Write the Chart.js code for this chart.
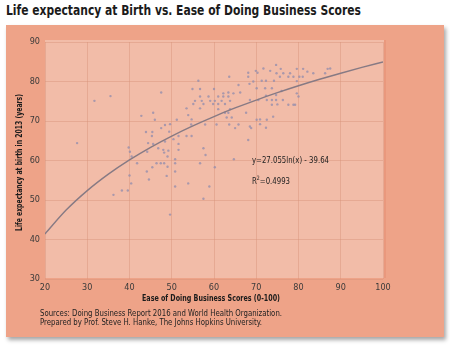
<!DOCTYPE html>
<html>
<head>
<meta charset="utf-8">
<script src="https://cdn.jsdelivr.net/npm/chart.js@4.4.1/dist/chart.umd.min.js"></script>
<style>
    body { margin: 0; background: #fff; width: 450px; height: 349px; overflow: hidden; position: relative; }
    #title { position: absolute; left: 6px; top: 2px; font-weight: bold; font-size: 14px; line-height: 16px; color: #1b1b1b; white-space: nowrap; transform-origin: 0 0; }
    #panel { position: absolute; left: 6px; top: 25px; width: 438px; height: 312px; background: #EEA388; box-shadow: 2px 3px 4px rgba(0,0,0,0.35); }
    #wrap { position: absolute; left: 0; top: 0; width: 438px; height: 285px; }
    .txt { position: absolute; font-size: 9px; line-height: 9px; color: #222; white-space: nowrap; transform-origin: 0 0; }
</style>
</head>
<body>
<div id="title" class="fit" data-w="355">Life expectancy at Birth vs. Ease of Doing Business Scores</div>
<div id="panel">
    <div id="wrap"><canvas id="scatterChart" width="438" height="285"></canvas></div>
    <div class="txt fit" data-w="77" style="left:246px; top:131px;">y=27.055ln(x) - 39.64</div>
    <div class="txt fit" data-w="38" style="left:246px; top:152px;">R<sup style="font-size:6px;line-height:0;">2</sup>=0.4993</div>
    <div class="txt fit" data-w="242" style="left:34px; top:284px;">Sources: Doing Business Report 2016 and World Health Organization.</div>
    <div class="txt fit" data-w="222" style="left:34px; top:293px;">Prepared by Prof. Steve H. Hanke, The Johns Hopkins University.</div>
</div>
<script>
// Ease of Doing Business score (x) and life expectancy 2013 (y)
const businessScores = [
    27.6, 31.7, 35.5, 36.2, 38.2, 39.6, 40.0, 40.4, 39.8, 40.1, 40.5, 41.8, 42.8, 45.6, 46.0, 47.5, 43.9, 45.4,
    45.3, 47.5, 44.4, 45.6, 44.2, 46.8, 48.2, 49.0, 46.4, 47.4, 48.2, 49.0, 45.4, 44.1, 48.8, 44.6, 49.6,
    63.6, 68.1, 68.1, 70.3, 56.3, 65.8, 68.4, 54.9, 56.7, 60.0, 62.2, 63.4, 64.6, 66.2, 56.7, 58.7, 61.0, 62.2,
    63.4, 55.5, 57.1, 59.1, 60.2, 61.8, 63.8, 55.1, 57.5, 59.8, 61.0, 62.6, 53.5, 56.7, 61.0, 63.8, 62.6, 63.4,
    67.6, 53.9, 63.0, 64.2, 51.2, 70.1, 48.4, 49.6, 54.6, 57.9, 60.6, 63.6, 65.8, 65.0, 68.8, 49.4, 51.6, 53.5,
    54.7, 50.4, 48.4, 68.1, 51.6, 57.5, 48.0, 49.2, 51.6, 58.0, 50.8, 64.7, 50.8, 56.7, 60.2, 50.8, 53.9, 58.9,
    50.8, 57.5, 54.7,
    74.7, 75.8, 71.7, 69.9, 73.3, 79.6, 81.1, 82.1, 86.9, 74.8, 76.4, 78.0, 83.5, 86.3, 75.6, 77.6, 78.8, 80.2,
    81.0, 71.3, 72.3, 74.2, 69.3, 79.6, 70.1, 72.1, 73.7, 76.0, 79.6, 80.0, 68.5, 70.5, 72.5, 73.7, 74.7, 76.3,
    72.3, 74.7, 73.7, 75.0, 77.6, 78.8, 79.2, 74.0, 70.9, 72.5, 70.9, 72.3, 68.5, 87.5
];
const lifeExpectancy = [
    64.4, 75.1, 76.3, 51.3, 52.4, 52.4, 56.2, 54.2, 63.3, 62.2, 61.0, 59.3, 71.3, 72.1, 70.3, 77.2, 67.2, 67.2,
    66.2, 68.2, 64.4, 64.2, 62.2, 63.1, 62.0, 61.0, 59.3, 59.3, 59.3, 58.4, 58.3, 57.2, 56.1, 55.2, 46.3,
    81.2, 82.2, 81.2, 82.2, 80.2, 79.1, 79.4, 78.1, 78.1, 78.1, 77.0, 77.2, 77.0, 77.2, 76.2, 76.2, 76.2, 76.2,
    76.2, 75.1, 75.1, 75.1, 75.1, 75.1, 75.1, 74.3, 74.3, 74.3, 74.3, 74.3, 73.2, 73.2, 73.0, 73.0, 72.1, 72.1,
    72.1, 71.5, 70.9, 70.9, 70.3, 70.3, 69.0, 69.2, 69.1, 69.1, 69.1, 69.1, 69.1, 68.2, 68.2, 67.3, 66.2, 66.2,
    66.2, 65.4, 64.8, 65.2, 64.2, 63.1, 62.7, 62.5, 62.7, 61.4, 60.3, 60.3, 59.3, 59.3, 58.3, 57.2, 54.2, 53.4,
    53.4, 50.3, 70.4,
    84.2, 83.2, 83.3, 82.7, 82.7, 83.2, 83.2, 82.5, 83.2, 82.1, 82.1, 82.1, 82.1, 82.1, 81.2, 81.2, 81.2, 81.2,
    81.2, 80.2, 80.2, 80.2, 80.0, 80.1, 78.3, 78.3, 78.3, 77.6, 77.0, 76.2, 75.3, 75.3, 75.3, 75.3, 75.3, 75.3,
    76.4, 76.6, 74.1, 74.2, 74.1, 74.1, 74.1, 71.1, 70.4, 70.3, 69.2, 68.3, 68.6, 83.3
];

// Logarithmic trend line y = 27.055ln(x) - 39.64, values at every 5 points
const trendX = [20, 25, 30, 35, 40, 45, 50, 55, 60, 65, 70, 75, 80, 85, 90, 95, 100];
const trendY = [41.41, 47.45, 52.38, 56.55, 60.16, 63.35, 66.20, 68.78, 71.13, 73.30, 75.30, 77.17, 78.92, 80.56, 82.10, 83.57, 84.95];

const xTicks = [20, 30, 40, 50, 60, 70, 80, 90, 100];
const yTicks = [30, 40, 50, 60, 70, 80, 90];

const xTitle = 'Ease of Doing Business Scores (0-100)';
const yTitle = 'Life expectancy at birth in 2013 (years)';

// Pick a narrow font if one is installed
function hasFont(name) {
    const c = document.createElement('canvas').getContext('2d');
    const s = 'abcdefghijklmnopqrstuvwxyz0123456789ABCDEF';
    c.font = '20px monospace';
    const a = c.measureText(s).width;
    c.font = '20px "' + name + '", monospace';
    return c.measureText(s).width !== a;
}
const FONT = ['Liberation Sans Narrow', 'DejaVu Sans Condensed', 'Roboto'].find(hasFont) || 'sans-serif';

document.querySelectorAll('.fit').forEach(function(el) {
    el.style.fontFamily = '"' + FONT + '", sans-serif';
    const w = el.getBoundingClientRect().width;
    const target = parseFloat(el.dataset.w);
    if (w > 0) el.style.transform = 'scaleX(' + (target / w) + ')';
});

const plotBackground = {
    id: 'plotBackground',
    beforeDraw(chart) {
        const { ctx, chartArea: a } = chart;
        ctx.save();
        ctx.fillStyle = '#F2BCA8';
        ctx.fillRect(a.left, a.top - 2, a.right - a.left + 1, a.bottom - a.top + 1);
        ctx.fillStyle = '#E9987D';
        ctx.fillRect(a.right + 1, a.top - 2, 2, a.bottom - a.top + 1);
        ctx.restore();
    }
};

// axis titles in a narrow bold face, squeezed to the widths seen in the original
function narrowText(ctx, text, x, y, width, rotate) {
    ctx.save();
    ctx.font = 'bold 9px "' + FONT + '", sans-serif';
    ctx.fillStyle = '#1b1b1b';
    ctx.textAlign = 'center';
    ctx.textBaseline = 'middle';
    const w = ctx.measureText(text).width;
    ctx.translate(x, y);
    if (rotate) ctx.rotate(-Math.PI / 2);
    ctx.scale(width / w, 1);
    ctx.fillText(text, 0, 0);
    ctx.restore();
}

const axisTitles = {
    id: 'axisTitles',
    afterDraw(chart) {
        const { ctx, chartArea: a } = chart;
        narrowText(ctx, xTitle, (a.left + a.right) / 2 - 3, a.bottom + 20, 138, false);
        narrowText(ctx, yTitle, 14, (a.top + a.bottom) / 2 + 2, 137, true);
    }
};

const tickFont = { family: FONT, size: 9 };

new Chart(document.getElementById('scatterChart'), {
    type: 'scatter',
    data: {
        datasets: [{
            type: 'line',
            data: trendX.map((x, i) => ({ x: x, y: trendY[i] })),
            borderColor: '#877a84',
            borderWidth: 1.4,
            pointRadius: 0,
            cubicInterpolationMode: 'monotone',
            fill: false,
            order: 0
        }, {
            data: businessScores.map((x, i) => ({ x: x, y: lifeExpectancy[i] })),
            backgroundColor: 'rgba(150,142,172,0.8)',
            borderWidth: 0,
            pointRadius: 1.2,
            order: 1
        }]
    },
    options: {
        responsive: false,
        animation: false,
        devicePixelRatio: 1,
        layout: { padding: { top: 17, right: 61, left: 0, bottom: 0 } },
        plugins: { legend: { display: false }, tooltip: { enabled: false } },
        scales: {
            x: {
                type: 'linear',
                min: 20,
                max: 100,
                afterBuildTicks: s => { s.ticks = xTicks.map(v => ({ value: v })); },
                afterFit: s => { s.height = 31; },
                grid: { color: 'rgba(214,146,122,0.45)', drawTicks: false },
                border: { display: false },
                ticks: { color: '#3a3a3a', font: tickFont, padding: 3, maxRotation: 0 },
                title: { display: false, text: xTitle }
            },
            y: {
                min: 30,
                max: 90,
                afterBuildTicks: s => { s.ticks = yTicks.map(v => ({ value: v })); },
                afterFit: s => { s.width = 39; },
                grid: { color: 'rgba(214,146,122,0.45)', drawTicks: false },
                border: { display: false },
                ticks: { color: '#3a3a3a', font: tickFont, padding: 5 },
                title: { display: false, text: yTitle }
            }
        }
    },
    plugins: [plotBackground, axisTitles]
});
</script>
</body>
</html>
